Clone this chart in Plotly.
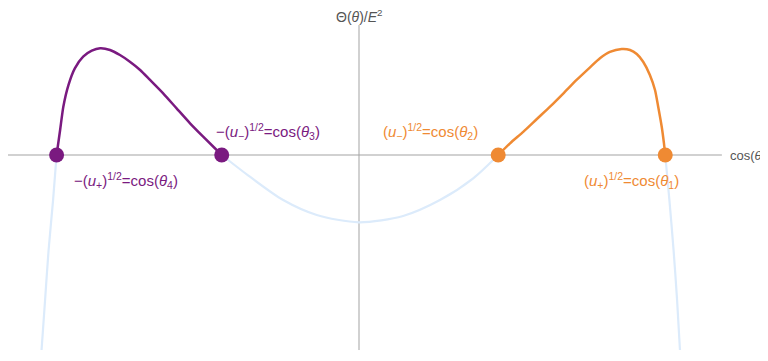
import plotly.graph_objects as go

# Theta(theta)/E^2 against cos(theta)
left_hump_x = [-0.945, -0.934, -0.924, -0.908, -0.888, -0.862, -0.835, -0.809, -0.778,
               -0.747, -0.716, -0.684, -0.653, -0.612, -0.570, -0.528, -0.487, -0.429]
left_hump_y = [0.0, 0.236, 0.456, 0.660, 0.818, 0.928, 0.984, 1.007, 0.991,
               0.943, 0.880, 0.802, 0.708, 0.582, 0.440, 0.299, 0.173, 0.0]

right_hump_x = [0.435, 0.472, 0.514, 0.555, 0.597, 0.639, 0.680, 0.722, 0.753, 0.784,
                0.821, 0.847, 0.868, 0.888, 0.909, 0.925, 0.935, 0.946, 0.953, 0.957]
right_hump_y = [0.0, 0.110, 0.220, 0.337, 0.456, 0.582, 0.708, 0.827, 0.912, 0.972,
                1.0, 0.991, 0.953, 0.880, 0.755, 0.613, 0.456, 0.267, 0.110, 0.0]

middle_x = [-0.429, -0.341, -0.237, -0.132, 0.0, 0.138, 0.253, 0.357, 0.435]
middle_y = [0.0, -0.205, -0.425, -0.566, -0.635, -0.575, -0.425, -0.220, 0.0]

left_tail_x = [-0.945, -0.956, -0.970, -0.981, -0.992]
left_tail_y = [0.0, -0.425, -0.896, -1.368, -1.840]

right_tail_x = [0.957, 0.970, 0.983, 0.994, 1.003]
right_tail_y = [0.0, -0.425, -0.896, -1.368, -1.840]

purple_roots = [-0.945, -0.429]
orange_roots = [0.435, 0.957]

purple_labels = [
    "−(<i>u</i><sub>+</sub>)<sup>1/2</sup>=cos(<i>θ</i><sub>4</sub>)",
    "−(<i>u</i><sub>−</sub>)<sup>1/2</sup>=cos(<i>θ</i><sub>3</sub>)",
]
orange_labels = [
    "(<i>u</i><sub>−</sub>)<sup>1/2</sup>=cos(<i>θ</i><sub>2</sub>)",
    "(<i>u</i><sub>+</sub>)<sup>1/2</sup>=cos(<i>θ</i><sub>1</sub>)",
]

PURPLE = "#7a1a80"
ORANGE = "#ef8a33"
PALE = "#dcebfb"
AXIS = "#a3a3a3"
FONT = "Liberation Sans"

fig = go.Figure()

for xs, ys in [(left_tail_x, left_tail_y), (middle_x, middle_y), (right_tail_x, right_tail_y)]:
    fig.add_trace(go.Scatter(
        x=xs, y=ys, mode="lines",
        line=dict(color=PALE, width=2.2, shape="spline", smoothing=0.8),
        hoverinfo="skip"
    ))

fig.add_trace(go.Scatter(
    x=left_hump_x, y=left_hump_y, mode="lines",
    line=dict(color=PURPLE, width=2.5, shape="spline", smoothing=0.6)
))
fig.add_trace(go.Scatter(
    x=right_hump_x, y=right_hump_y, mode="lines",
    line=dict(color=ORANGE, width=2.5, shape="spline", smoothing=0.6)
))

fig.add_trace(go.Scatter(
    x=purple_roots, y=[0, 0], mode="markers",
    marker=dict(color=PURPLE, size=15)
))
fig.add_trace(go.Scatter(
    x=orange_roots, y=[0, 0], mode="markers",
    marker=dict(color=ORANGE, size=15)
))

# axes drawn as plain lines, like the reference
fig.add_shape(type="line", x0=-1.097, x1=1.134, y0=0, y1=0,
              line=dict(color=AXIS, width=1), layer="below")
fig.add_shape(type="line", x0=0, x1=0, y0=-1.84, y1=1.226,
              line=dict(color=AXIS, width=1), layer="below")

label_pos = [(-0.897, -0.245), (-0.453, 0.226), (0.069, 0.226), (0.697, -0.245)]
for (lx, ly), text, color in zip(label_pos, purple_labels + orange_labels,
                                 [PURPLE, PURPLE, ORANGE, ORANGE]):
    fig.add_annotation(x=lx, y=ly, text=text, showarrow=False,
                       xanchor="left", yanchor="middle",
                       font=dict(family=FONT, size=15, color=color))

fig.add_annotation(x=1.153, y=0, text="cos(<i>θ</i>)", showarrow=False,
                   xanchor="left", yanchor="middle",
                   font=dict(family=FONT, size=13, color="#555555"))
fig.add_annotation(x=0, y=1.315, text="Θ(<i>θ</i>)/<i>E</i><sup>2</sup>", showarrow=False,
                   xanchor="center", yanchor="middle",
                   font=dict(family=FONT, size=14, color="#555555"))

# the page body keeps an 8px margin, so the figure is kept inside it
fig.update_layout(
    width=760,
    height=345,
    margin=dict(l=0, r=0, t=0, b=0),
    paper_bgcolor="white",
    plot_bgcolor="white",
    showlegend=False,
    xaxis=dict(range=[-1.096875, 1.278125], visible=False),
    yaxis=dict(range=[-1.8679, 1.3868], visible=False),
)

fig.write_html("out.html")
